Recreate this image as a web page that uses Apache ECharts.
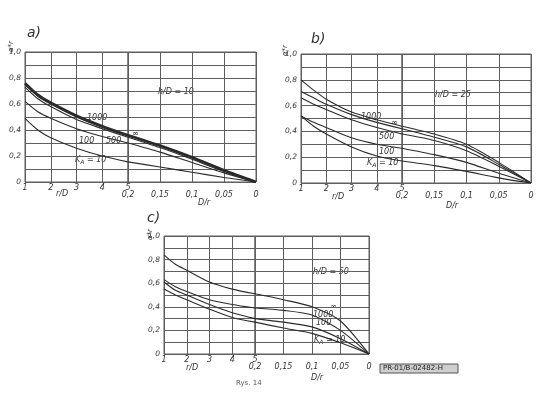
<!DOCTYPE html>
<html>
<head>
<meta charset="utf-8">
<script src="https://cdn.jsdelivr.net/npm/echarts@6/dist/echarts.min.js"></script>
<style>
  html, body { margin: 0; padding: 0; background: #fff; }
  #chart { width: 553px; height: 397px; }
</style>
</head>
<body>
<div id="chart"></div>
<script>
// x values: left part r/D, right part D/r (r/D = 5 meets D/r = 0,2)
const rD = [1, 1.5, 2, 3, 4, 5];
const Dr = [0.2, 0.15, 0.1, 0.05, 0];

// curve order: ∞, 1000, 500, 100, 10
const a_rD = [
  [0.76, 0.67, 0.61, 0.51, 0.43, 0.36],
  [0.75, 0.66, 0.60, 0.50, 0.42, 0.355],
  [0.73, 0.64, 0.58, 0.48, 0.41, 0.345],
  [0.62, 0.54, 0.49, 0.41, 0.35, 0.30],
  [0.49, 0.40, 0.34, 0.26, 0.20, 0.155]
];
const a_Dr = [
  [0.36, 0.28, 0.19, 0.09, 0],
  [0.355, 0.275, 0.185, 0.088, 0],
  [0.345, 0.265, 0.175, 0.08, 0],
  [0.30, 0.23, 0.15, 0.07, 0],
  [0.155, 0.115, 0.075, 0.035, 0]
];
const b_rD = [
  [0.80, 0.72, 0.65, 0.55, 0.49, 0.44],
  [0.71, 0.66, 0.61, 0.53, 0.47, 0.42],
  [0.66, 0.61, 0.57, 0.49, 0.43, 0.38],
  [0.52, 0.47, 0.43, 0.35, 0.30, 0.27],
  [0.52, 0.44, 0.38, 0.28, 0.21, 0.17]
];
const b_Dr = [
  [0.44, 0.38, 0.30, 0.16, 0],
  [0.42, 0.355, 0.28, 0.145, 0],
  [0.38, 0.33, 0.25, 0.13, 0],
  [0.27, 0.22, 0.16, 0.075, 0],
  [0.17, 0.135, 0.09, 0.04, 0]
];
// curve order: ∞, 1000, 100, 10
const c_rD = [
  [0.84, 0.76, 0.71, 0.61, 0.55, 0.51],
  [0.63, 0.57, 0.53, 0.46, 0.42, 0.39],
  [0.61, 0.54, 0.50, 0.42, 0.35, 0.30],
  [0.55, 0.50, 0.46, 0.38, 0.31, 0.27]
];
const c_Dr = [
  [0.51, 0.46, 0.40, 0.28, 0],
  [0.39, 0.37, 0.33, 0.20, 0],
  [0.30, 0.27, 0.23, 0.13, 0],
  [0.27, 0.22, 0.175, 0.095, 0]
];

const ink = '#2b2b2b';
const gridInk = '#5f5f5f';
const font = 'DejaVu Sans';

// panel frames (px): left edge, r/D=5 line, right edge, top, bottom
const panels = [
  { L: 25, M: 128, R: 256, T: 52, B: 182, left: a_rD, right: a_Dr, thick: 0 },
  { L: 301, M: 402, R: 531, T: 54, B: 183, left: b_rD, right: b_Dr, thick: -1 },
  { L: 164, M: 255, R: 369, T: 236, B: 354, left: c_rD, right: c_Dr, thick: -1 }
];

const grids = [], xAxes = [], yAxes = [], series = [];

const yFmt = v => {
  const k = Math.round(v * 10);
  if (k % 2) return '';
  return k === 0 ? '0' : (k / 10).toFixed(1).replace('.', ',');
};
const drFmt = v => v === 0 ? '0' : String(+v.toFixed(2)).replace('.', ',');

panels.forEach((p, pi) => {
  [0, 1].forEach(side => {
    const gi = grids.length;
    grids.push({
      left: side ? p.M : p.L,
      top: p.T,
      width: side ? p.R - p.M : p.M - p.L,
      height: p.B - p.T,
      show: true,
      borderColor: gridInk,
      borderWidth: 1,
      outerBoundsMode: 'none'
    });
    xAxes.push({
      gridIndex: gi,
      type: 'value',
      min: side ? 0 : 1,
      max: side ? 0.2 : 5,
      interval: side ? 0.05 : 1,
      inverse: !!side,
      axisLine: { show: false },
      axisTick: { show: false },
      splitLine: { lineStyle: { color: gridInk, width: 1 } },
      axisLabel: {
        margin: side ? 9 : 2,
        fontSize: 8,
        fontStyle: 'italic',
        fontFamily: font,
        color: '#333',
        showMinLabel: true,
        showMaxLabel: true,
        formatter: side ? drFmt : v => String(v)
      }
    });
    yAxes.push({
      gridIndex: gi,
      type: 'value',
      min: 0,
      max: 1,
      interval: 0.1,
      axisLine: { show: false },
      axisTick: { show: false },
      splitLine: { lineStyle: { color: gridInk, width: 1 } },
      axisLabel: {
        show: !side,
        margin: 4,
        fontSize: 7.5,
        fontStyle: 'italic',
        fontFamily: font,
        color: '#333',
        formatter: yFmt
      }
    });
    const xs = side ? Dr : rD;
    const rows = side ? p.right : p.left;
    rows.forEach((vals, ci) => {
      series.push({
        type: 'line',
        xAxisIndex: gi,
        yAxisIndex: gi,
        smooth: 0.25,
        symbol: 'none',
        silent: true,
        lineStyle: { color: ink, width: ci === p.thick ? 2.6 : 1.1 },
        data: xs.map((x, i) => [x, vals[i]]),
        z: 5
      });
    });
  });
});

const txt = (x, y, text, size, extra) => ({
  type: 'text', x: x, y: y, silent: true,
  style: Object.assign({
    text: text, fill: '#333', fontSize: size || 8, fontStyle: 'italic',
    fontFamily: font, verticalAlign: 'middle'
  }, extra || {})
});
const kLabel = (x, y) => ({
  type: 'text', x: x, y: y, silent: true,
  style: {
    text: '{k|K}{s|A}{k| = 10}',
    verticalAlign: 'middle',
    rich: {
      k: { fontSize: 8, fontStyle: 'italic', fontFamily: font, fill: '#333' },
      s: { fontSize: 6, fontStyle: 'italic', fontFamily: font, fill: '#333', padding: [5, 0, 0, 0] }
    }
  }
});
const alpha = (x, y) => ({
  type: 'text', x: x, y: y, rotation: Math.PI / 2, silent: true,
  style: { text: 'α*r', fontSize: 7, fontStyle: 'italic', fontFamily: font, fill: '#333', verticalAlign: 'middle' }
});

const graphic = [
  txt(27, 33, 'a)', 14),
  txt(311, 39, 'b)', 14),
  txt(147, 218, 'c)', 14),
  alpha(11, 52), alpha(285, 56), alpha(150, 240),
  txt(158, 92, 'h/D = 10'),
  txt(435, 95, 'h/D = 25'),
  txt(313, 272, 'h/D = 50'),
  // panel a curve labels
  txt(87, 118, '1000'), txt(79, 141, '100'), txt(106, 141, '500'), txt(132, 134, '∞'), kLabel(75, 160),
  // panel b
  txt(361, 117, '1000'), txt(391, 123, '∞'), txt(379, 137, '500'), txt(379, 152, '100'), kLabel(367, 163),
  // panel c
  txt(330, 307, '∞'), txt(313, 315, '1000'), txt(316, 323, '100'), kLabel(314, 340),
  // axis names
  txt(56, 194, 'r/D'), txt(198, 203, 'D/r'),
  txt(332, 197, 'r/D'), txt(446, 206, 'D/r'),
  txt(186, 368, 'r/D'), txt(311, 378, 'D/r'),
  // stamp and caption
  {
    type: 'rect', silent: true,
    shape: { x: 380, y: 364, width: 78, height: 9 },
    style: { fill: '#cfcfcf', stroke: '#555', lineWidth: 1 }
  },
  txt(383, 368.5, 'PR-01/B-02482-H', 7, { fontStyle: 'normal', fill: '#222' }),
  txt(236, 383, 'Rys. 14', 7, { fontStyle: 'normal', fill: '#555' })
];

const chart = echarts.init(document.getElementById('chart'));
chart.setOption({
  backgroundColor: '#fff',
  animation: false,
  grid: grids,
  xAxis: xAxes,
  yAxis: yAxes,
  series: series,
  graphic: graphic
});
</script>
</body>
</html>
